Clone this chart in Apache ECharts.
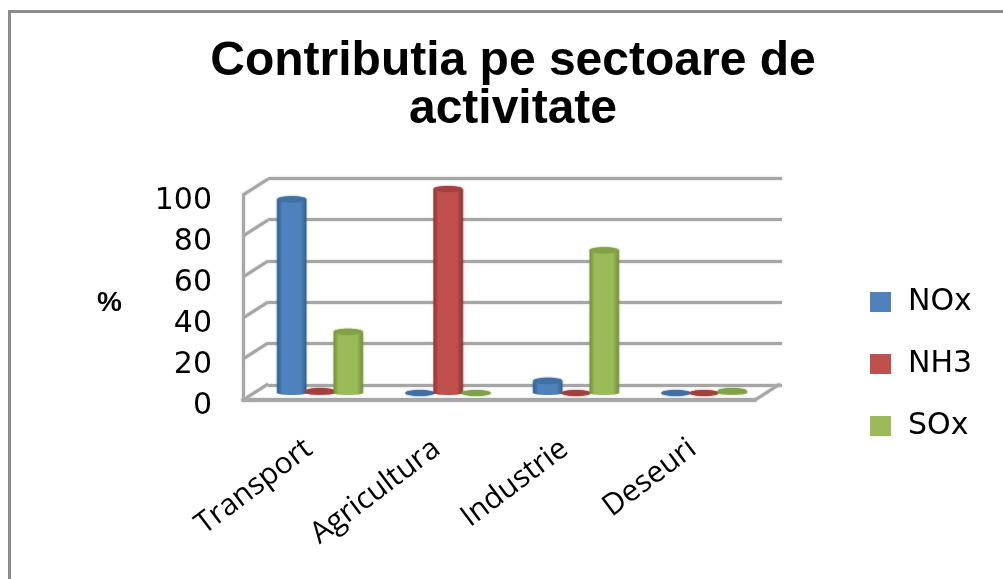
<!DOCTYPE html>
<html>
<head>
<meta charset="utf-8">
<style>
  html, body { margin: 0; padding: 0; background: #fff; }
  #chart { width: 1003px; height: 579px; }
</style>
<script src="https://cdn.jsdelivr.net/npm/echarts@6/dist/echarts.min.js"></script>
</head>
<body>
<div id="chart"></div>
<script>
let categories = ['Transport', 'Agricultura', 'Industrie', 'Deseuri'];
let nox = [95, 0, 6, 0];
let nh3 = [1, 100, 0, 0];
let sox = [30, 0, 70, 1];
let seriesNames = ['NOx', 'NH3', 'SOx'];
let yTicks = [0, 20, 40, 60, 80, 100];

let colors = ['#4f81bd', '#c0504d', '#9bbb59'];
let darkColors = ['#30618f', '#8f3432', '#72903a'];
let topColors = ['#3f6fa3', '#a33f3c', '#80a145'];
let wallColor = '#a6a6a6';
let depthX = 25;
let depthY = -16;
let barWidth = 29;

// cylinder for one value, offset inside the category by series index
function cylinder(index) {
  return function (params, api) {
    let bandWidth = api.size([1, 0])[0];
    let step = bandWidth * 0.22;
    let top = api.coord([api.value(0), api.value(1)]);
    let base = api.coord([api.value(0), 0]);
    let cx = top[0] + (index - 1) * step;
    let rx = barWidth / 2;
    let fill = new echarts.graphic.LinearGradient(0, 0, 1, 0, [
      { offset: 0, color: darkColors[index] },
      { offset: 0.18, color: colors[index] },
      { offset: 0.8, color: colors[index] },
      { offset: 1, color: darkColors[index] }
    ]);
    return {
      type: 'group',
      children: [
        { type: 'rect', shape: { x: cx - rx, y: top[1], width: barWidth, height: base[1] - top[1] }, style: { fill: fill, shadowBlur: 2, shadowColor: darkColors[index] } },
        { type: 'ellipse', shape: { cx: cx, cy: base[1], rx: rx, ry: 2 }, style: { fill: fill } },
        { type: 'ellipse', shape: { cx: cx, cy: top[1], rx: rx, ry: 3 }, style: { fill: topColors[index], shadowBlur: 2, shadowColor: topColors[index] } }
      ]
    };
  };
}

// slanted side-wall ticks from the front axis to the back wall
function wallTick(params, api) {
  let p = api.coord([0, api.value(0)]);
  return {
    type: 'line',
    shape: { x1: p[0], y1: p[1], x2: p[0] + depthX, y2: p[1] + depthY },
    style: { stroke: wallColor, lineWidth: 3, shadowBlur: 2, shadowColor: '#c4c4c4' }
  };
}

// right edge of the floor
function floorEdge(params, api) {
  let p = api.coord([1, 0]);
  return {
    type: 'line',
    shape: { x1: p[0], y1: p[1], x2: p[0] + depthX, y2: p[1] + depthY },
    style: { stroke: wallColor, lineWidth: 3, shadowBlur: 2, shadowColor: '#c4c4c4' }
  };
}

let myChart = echarts.init(document.getElementById('chart'));
let option = {
  animation: false,
  textStyle: { fontFamily: 'Open Sans' },
  title: {
    text: 'Contributia pe sectoare de\nactivitate',
    left: 513,
    top: 38,
    padding: 0,
    textAlign: 'center',
    textStyle: { fontFamily: 'Liberation Sans', fontWeight: 'bold', fontSize: 48, lineHeight: 48, color: '#000' }
  },
  legend: {
    data: seriesNames,
    orient: 'vertical',
    left: 870,
    top: 287,
    padding: 0,
    icon: 'rect',
    itemWidth: 21,
    itemHeight: 20,
    itemGap: 32,
    textStyle: { fontFamily: 'DejaVu Sans', fontSize: 30, color: '#000', padding: [8, 0, 0, 12] }
  },
  graphic: [
    { type: 'rect', shape: { x: 9.5, y: 11.5, width: 1000, height: 580 }, style: { fill: 'none', stroke: '#8c8c8c', lineWidth: 3 } }
  ],
  grid: [
    // back wall
    { left: 268, right: 221, top: 178, height: 207 },
    // front axis
    { left: 243, width: 512, top: 195, height: 205 },
    // bars, halfway through the depth
    { left: 256, width: 512, top: 189, height: 204 },
    // tick labels and axis name sit a little below the front axis
    { left: 243, width: 512, top: 201, height: 205 }
  ],
  xAxis: [
    { gridIndex: 0, type: 'value', min: 0, max: 1, show: false },
    { gridIndex: 1, type: 'value', min: 0, max: 1,
      axisLine: { show: true, onZero: false, lineStyle: { color: wallColor, width: 4, shadowBlur: 2, shadowColor: '#c4c4c4' } },
      axisTick: { show: false }, axisLabel: { show: false }, splitLine: { show: false } },
    { gridIndex: 2, type: 'category', data: categories,
      axisLine: { show: false }, axisTick: { show: false }, splitLine: { show: false },
      axisLabel: { interval: 0, rotate: 37, margin: 44, fontSize: 30, color: '#000', padding: [0, 14, 0, 0] } },
    { gridIndex: 3, type: 'value', min: 0, max: 1, show: false }
  ],
  yAxis: [
    { gridIndex: 0, type: 'value', min: 0, max: 100, interval: 20,
      axisLine: { show: false }, axisTick: { show: false }, axisLabel: { show: false },
      splitLine: { show: true, lineStyle: { color: wallColor, width: 3, shadowBlur: 2, shadowColor: '#c4c4c4' } } },
    { gridIndex: 1, type: 'value', min: 0, max: 100, interval: 20,
      axisLine: { show: true, lineStyle: { color: wallColor, width: 3, shadowBlur: 2, shadowColor: '#c4c4c4' } },
      axisTick: { show: false }, axisLabel: { show: false }, splitLine: { show: false } },
    { gridIndex: 2, type: 'value', min: 0, max: 100, show: false, splitLine: { show: false } },
    { gridIndex: 3, type: 'value', min: 0, max: 100, interval: 20,
      name: '%', nameLocation: 'middle', nameRotate: 0, nameGap: 121,
      nameTextStyle: { fontFamily: 'Liberation Sans', fontWeight: 'bold', fontSize: 28, color: '#000' },
      axisLine: { show: false }, axisTick: { show: false }, splitLine: { show: false },
      axisLabel: { fontFamily: 'DejaVu Sans', fontSize: 30, margin: 31, color: '#000' } }
  ],
  series: [
    { type: 'custom', xAxisIndex: 1, yAxisIndex: 1, silent: true, data: yTicks.map(function (v) { return [v]; }), encode: { y: 0 }, renderItem: wallTick, z: 1 },
    { type: 'custom', xAxisIndex: 1, yAxisIndex: 1, silent: true, data: [[0]], renderItem: floorEdge, z: 1 },
    { name: 'NOx', type: 'custom', xAxisIndex: 2, yAxisIndex: 2, itemStyle: { color: colors[0] }, data: nox.map(function (v, i) { return [i, v]; }), encode: { x: 0, y: 1 }, renderItem: cylinder(0), z: 3 },
    { name: 'NH3', type: 'custom', xAxisIndex: 2, yAxisIndex: 2, itemStyle: { color: colors[1] }, data: nh3.map(function (v, i) { return [i, v]; }), encode: { x: 0, y: 1 }, renderItem: cylinder(1), z: 3 },
    { name: 'SOx', type: 'custom', xAxisIndex: 2, yAxisIndex: 2, itemStyle: { color: colors[2] }, data: sox.map(function (v, i) { return [i, v]; }), encode: { x: 0, y: 1 }, renderItem: cylinder(2), z: 3 }
  ]
};
myChart.setOption(option);
</script>
</body>
</html>
